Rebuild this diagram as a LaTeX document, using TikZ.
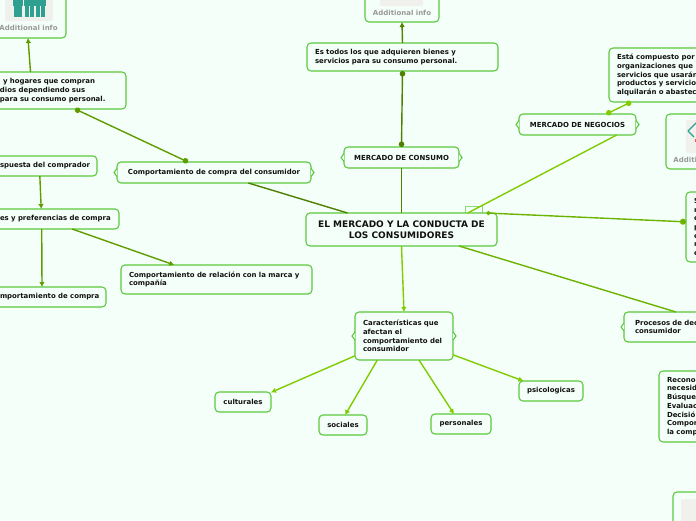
\documentclass[tikz,border=0pt]{standalone}
\usepackage{fontspec}
\setmainfont{DejaVu Sans}
\usetikzlibrary{arrows.meta,positioning}
\definecolor{mapbg}{HTML}{F5FFFA}
\definecolor{mapborder}{HTML}{5BC93C}
\definecolor{maptext}{HTML}{111111}
\definecolor{infogrey}{HTML}{999999}
\definecolor{icongrey}{HTML}{F0F0EC}
\definecolor{iconteal}{HTML}{2FA08F}
\definecolor{linkdark}{HTML}{4F8000}
\definecolor{linkmid}{HTML}{5F9C00}
\definecolor{linkgreen}{HTML}{6CB300}
\definecolor{linklime}{HTML}{80CC00}
\tikzset{
  mapbox/.style={draw=mapborder,fill=mapbg,line width=1.1pt,rounded corners=4pt,inner xsep=8pt,inner ysep=0pt,outer sep=0pt,text=maptext,font=\fontsize{6.95}{8.7}\selectfont\bfseries,align=left},
  rootbox/.style={mapbox,font=\fontsize{9}{11.5}\selectfont\bfseries,align=center},
  infobox/.style={mapbox},
  infotext/.style={font=\fontsize{7}{8.7}\selectfont\bfseries,text=infogrey},
  bump/.style={draw=mapborder,fill=mapbg,line width=1.1pt},
  link/.style={line width=1.4pt},
  arrowlink/.style={link,-{Latex[length=5pt,width=5.5pt]}},
  dotlink/.style={link,{Circle[length=5.5pt]}-{Circle[length=5.5pt]}},
}
\begin{document}
\begin{tikzpicture}[x=1pt,y=-1pt]
\useasboundingbox (0,0) rectangle (696,520);
\clip (0,0) rectangle (696,520);
\fill[mapbg] (0,0) rectangle (696,520);
% small tab behind the root
\node[draw=mapborder!70,fill=mapbg,line width=.8pt,minimum width=17pt,minimum height=8pt,inner sep=0pt] (tab) at (473.5,210) {};
% centre and first level
\node[rootbox,minimum width=191pt,minimum height=33pt] (root) at (401.5,229.5) {EL MERCADO Y LA CONDUCTA DE\\LOS CONSUMIDORES};
\node[mapbox,minimum width=115pt,minimum height=21pt] (consumo) at (401.5,157.5) {MERCADO DE CONSUMO};
\node[mapbox,minimum width=117pt,minimum height=21pt] (negocios) at (577.5,124.5) {MERCADO DE NEGOCIOS};
\node[mapbox,minimum width=194pt,minimum height=21pt] (compra) at (214,172.5) {Comportamiento de compra del consumidor};
\node[mapbox,text width=82pt,minimum height=48pt] (rasgos) at (404,336) {Características que\\afectan el\\comportamiento del\\consumidor};
\node[mapbox,inner xsep=11pt,text width=100pt,minimum height=30pt] (procesos) at (685,327) {Procesos de dec\\consumidor};
\node[mapbox,text width=82pt,minimum height=70pt] (resumen) at (735,227) {S\\n\\e\\p\\e\\n\\e};
% second level
\node[mapbox,text width=175pt,minimum height=28pt] (adquieren) at (402.5,57) {Es todos los que adquieren bienes y\\servicios para su consumo personal.};
\node[infobox,minimum width=74pt,minimum height=42pt] (infotop) at (402,1) {};
\node[mapbox,text width=95pt,minimum height=54pt] (compuesto) at (664.5,75) {Está compuesto por\\organizaciones que\\servicios que usarán\\productos y servicios\\alquilarán o abastec};
\node[infobox,minimum width=74pt,minimum height=55pt] (inforight) at (703,141.5) {};
\node[mapbox,text width=118pt,minimum height=37pt] (hogares) at (59,90.5) {\hspace*{3pt}y hogares que compran\\dios dependiendo sus\\para su consumo personal.};
\node[infobox,minimum width=76pt,minimum height=58pt] (infoleft) at (28,9) {};
\node[mapbox,text width=89pt,minimum height=20pt] (respuesta) at (44.5,166) {\mbox{spuesta del comprador}};
\node[mapbox,text width=111pt,minimum height=20pt] (preferencias) at (55.5,219) {\mbox{es y preferencias de compra}};
\node[mapbox,text width=98pt,minimum height=20pt] (conducta) at (49,297) {\mbox{mportamiento de compra}};
\node[mapbox,text width=175pt,minimum height=29pt] (relacion) at (216.5,279.5) {Comportamiento de relación con la marca y\\compañía};
\node[mapbox,minimum width=56pt,minimum height=20pt] (culturales) at (243,402) {culturales};
\node[mapbox,minimum width=48pt,minimum height=20pt] (sociales) at (343,425) {sociales};
\node[mapbox,minimum width=60pt,minimum height=20pt] (personales) at (461,424) {personales};
\node[mapbox,minimum width=64pt,minimum height=20pt] (psicologicas) at (551,391) {psicologicas};
\node[mapbox,text width=70pt,minimum height=71pt] (pasos) at (702,406.5) {Recono\\necesid\\Búsque\\Evaluac\\Decisió\\Compor\\la comp};
\node[infobox,minimum width=60pt,minimum height=50pt] (infobottom) at (703,517) {};
% side bumps
\foreach \nd in {consumo,negocios,compra,rasgos,procesos}{
\draw[bump] ([yshift=4pt]\nd.west) -- ([xshift=-3pt]\nd.west) -- ([yshift=-4pt]\nd.west);
}
\foreach \nd in {consumo,negocios,compra,rasgos}{
\draw[bump] ([yshift=4pt]\nd.east) -- ([xshift=3pt]\nd.east) -- ([yshift=-4pt]\nd.east);
}
% icons and their captions
\fill[icongrey,rounded corners=2pt] (380,-20) rectangle (423,6);
\node[infotext] (captop) at (402,12.5) {Additional info};
\fill[icongrey,rounded corners=2pt] (5,-20) rectangle (53,21);
\foreach \px in {12.5,24,35}{
\fill[iconteal] (\px,0) rectangle +(10.5,6);
\fill[iconteal] (\px+1,5) rectangle +(4,12);
\fill[iconteal] (\px+5.5,5) rectangle +(4,12);
}
\node[infotext] (capleft) at (28.5,27.5) {Additional info};
\fill[icongrey,rounded corners=2pt] (686,120) rectangle (720,153);
\draw[iconteal,line width=1.2pt] (688,131) -- (696,123);
\draw[iconteal,line width=1.2pt] (688,131) -- (694,137);
\fill[red!70] (695,139) rectangle (696,142);
\node[infotext] (capright) at (702.5,159.5) {Additional info};
\fill[icongrey,rounded corners=2pt] (681,499) rectangle (720,530);
% connectors
\draw[link,linkdark] (root.north) -- (consumo.south);
\draw[link,linkdark] (root.163.4) -- (compra.-17.2);
\draw[link,linklime] (root.14.6) -- (negocios.-15.3);
\draw[link,linkgreen,{Circle[length=4pt]}-{Circle[length=6pt]}] (root.11.3) -- (resumen.174.3);
\draw[link,linkgreen] (root.-16) -- (procesos.121);
\draw[arrowlink,linklime] (root.south) -- (rasgos.north);
\draw[dotlink,linkdark] (consumo.north) -- (adquieren.south);
\draw[arrowlink,linkdark] (adquieren.north) -- (infotop.south);
\draw[dotlink,linklime] (negocios.20.2) -- (compuesto.219.7);
\draw[dotlink,linkmid] (compra.158) -- (hogares.-49);
\draw[arrowlink,linkmid] (hogares.147.5) -- (infoleft.south);
\draw[arrowlink,linkmid] (respuesta.245.8) -- (preferencias.145.4);
\draw[arrowlink,linkmid] (preferencias.216.5) -- (conducta.125);
\draw[arrowlink,linkmid] (preferencias.-31.2) -- (relacion.161.2);
\draw[arrowlink,linklime] (rasgos.202.2) -- (culturales.19.8);
\draw[arrowlink,linklime] (rasgos.222.7) -- (sociales.78.7);
\draw[arrowlink,linklime] (rasgos.-58) -- (personales.125);
\draw[arrowlink,linklime] (rasgos.-21.2) -- (psicologicas.160.3);
\end{tikzpicture}
\end{document}
